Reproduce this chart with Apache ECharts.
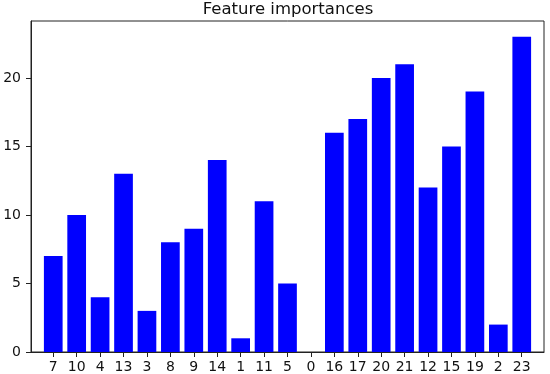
<!DOCTYPE html>
<html><head><meta charset="utf-8">
<script src="https://cdn.jsdelivr.net/npm/echarts@6/dist/echarts.min.js"></script>
<style>html,body{margin:0;padding:0;background:#fff}#c{width:550px;height:374px}</style>
</head><body><div id="c"></div>
<script>
const categories = ['7','10','4','13','3','8','9','14','1','11','5','0','16','17','20','21','12','15','19','2','23'];
const importances = [7,10,4,13,3,8,9,14,1,11,5,0,16,17,20,21,12,15,19,2,23];
const yTicks = [0,5,10,15,20];
const titleText = 'Feature importances';

const positions = categories.map((c, i) => i);
const font = 'DejaVu Sans';
const chart = echarts.init(document.getElementById('c'), null, {renderer: 'canvas'});
chart.setOption({
  animation: false,
  backgroundColor: '#fff',
  title: {
    text: titleText, left: 288, textAlign: 'center', top: 1, padding: 0,
    textStyle: {fontFamily: font, fontSize: 16.5, fontWeight: 'normal', color: '#111'}
  },
  grid: {left: 31, right: 6, top: 21, bottom: 22, show: true, borderColor: '#222', borderWidth: 1, backgroundColor: 'transparent'},
  xAxis: {
    type: 'value', min: -0.95, max: 20.95,
    splitLine: {show: false},
    axisLine: {show: true, onZero: false, lineStyle: {color: '#222', width: 1}},
    axisTick: {show: true, customValues: positions, length: 5, lineStyle: {color: '#222'}},
    axisLabel: {show: true, customValues: positions, margin: 8, formatter: v => categories[Math.round(v)],
      fontFamily: font, fontSize: 14, color: '#111'}
  },
  yAxis: {
    type: 'value', min: 0, max: 24.15,
    splitLine: {show: false},
    axisLine: {show: true, onZero: false, lineStyle: {color: '#222', width: 1}},
    axisTick: {show: true, customValues: yTicks, length: 5, lineStyle: {color: '#222'}},
    axisLabel: {show: true, customValues: yTicks, margin: 10, fontFamily: font, fontSize: 14, color: '#111'}
  },
  series: [{
    type: 'bar',
    data: importances.map((v, i) => [positions[i], v]),
    barWidth: 18.7,
    itemStyle: {color: '#0000ff'}
  }]
});
</script></body></html>
